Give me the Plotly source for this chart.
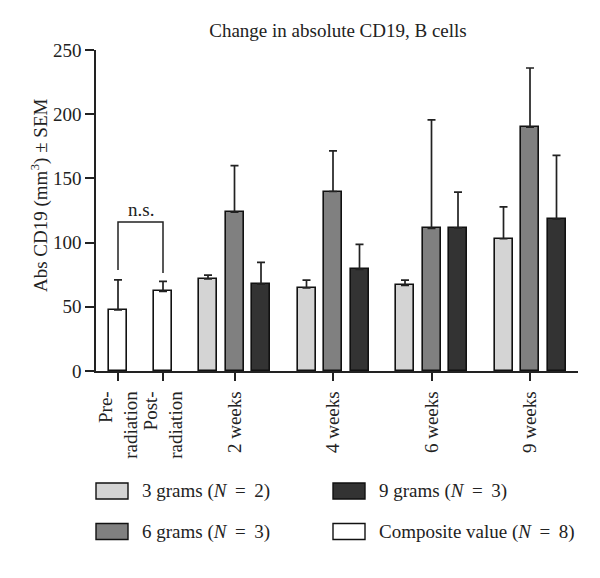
import plotly.graph_objects as go

# ---------------- data ----------------
categories = ["Pre-<br>radiation", "Post-<br>radiation", "2 weeks", "4 weeks", "6 weeks", "9 weeks"]
composite_vals = [47.5, 62.0]
composite_err_top = [71.0, 69.8]
g3_vals = [71.8, 64.8, 66.7, 103.0]
g3_err_top = [74.7, 70.8, 70.8, 127.9]
g6_vals = [123.7, 139.8, 111.0, 190.0]
g6_err_top = [160.0, 171.4, 195.6, 236.0]
g9_vals = [67.7, 79.1, 111.5, 118.3]
g9_err_top = [84.6, 98.6, 139.3, 167.9]
EQ = "\u2009=\u2009"
series_names = ["3 grams (<i>N</i> " + "= 2)", "6 grams (<i>N</i> = 3)",
                "9 grams (<i>N</i> = 3)", "Composite value (<i>N</i> = 8)"]
series_names = [s.replace(" = ", " " + EQ + " ") for s in series_names]
bracket_left_y = 78.6
bracket_right_y = 76.3
bracket_top_y = 116.0
ytick_vals = [0, 50, 100, 150, 200, 250]

# ---------------- layout constants ----------------
FONT = "Liberation Serif"
FS = 19
C3, C6, C9, CC = "#d4d4d4", "#808080", "#333333", "#ffffff"
cat_pos = [22, 67, 138.5, 237, 335.5, 434]
offset = 26.5
bw = 18

def err(vals, tops):
    return [t - v for t, v in zip(tops, vals)]

fig = go.Figure()

def add_bar(xs, vals, tops, color, name):
    fig.add_trace(go.Bar(
        x=xs, y=vals, width=bw, name=name, showlegend=False,
        marker=dict(color=color, line=dict(color="#111111", width=1.6)),
        error_y=dict(type="data", symmetric=False, array=err(vals, tops),
                     arrayminus=[0] * len(vals), thickness=1.7, width=4,
                     color="#222222"),
    ))

grp = cat_pos[2:]
add_bar(cat_pos[:2], composite_vals, composite_err_top, CC, series_names[3])
add_bar([g - offset for g in grp], g3_vals, g3_err_top, C3, series_names[0])
add_bar(grp, g6_vals, g6_err_top, C6, series_names[1])
add_bar([g + offset for g in grp], g9_vals, g9_err_top, C9, series_names[2])

# n.s. bracket
fig.add_trace(go.Scatter(
    x=[cat_pos[0], cat_pos[0], cat_pos[1], cat_pos[1]],
    y=[bracket_left_y, bracket_top_y, bracket_top_y, bracket_right_y],
    mode="lines", line=dict(color="#222222", width=1.5), showlegend=False,
    hoverinfo="skip"))
fig.add_annotation(x=(cat_pos[0] + cat_pos[1]) / 2, y=bracket_top_y, text="n.s.",
                   showarrow=False, yanchor="bottom", yshift=0,
                   font=dict(family=FONT, size=FS, color="#222222"))

# plot area on the page: x 96..578, y 50..371 (page has 8px body margin)
PX0, PW, PY0, PH = 96, 482, 371, 321

# y-axis title as annotation
fig.add_annotation(xref="paper", yref="paper", x=(39 - PX0) / PW, y=(PY0 - 196) / PH,
                   text="Abs CD19 (mm<sup>3</sup>) ± SEM", textangle=-90,
                   showarrow=False, xanchor="center", yanchor="middle",
                   font=dict(family=FONT, size=FS, color="#222222"))

# manual legend
legend_items = [
    (series_names[0], C3, 96, 491),
    (series_names[2], C9, 333, 491),
    (series_names[1], C6, 96, 531.5),
    (series_names[3], CC, 333, 531.5),
]
for name, col, lx, ly in legend_items:
    fig.add_shape(type="rect", xref="paper", yref="paper",
                  x0=(lx - PX0) / PW, x1=(lx - PX0 + 32) / PW,
                  y0=(PY0 - (ly + 8)) / PH, y1=(PY0 - (ly - 8)) / PH,
                  fillcolor=col, line=dict(color="#111111", width=1.4))
    fig.add_annotation(xref="paper", yref="paper",
                       x=(lx - PX0 + 44) / PW, y=(PY0 - ly) / PH,
                       text=name, showarrow=False, xanchor="left", yanchor="middle",
                       font=dict(family=FONT, size=FS, color="#222222"))

W, H = 592, 570
fig.update_layout(
    width=W, height=H,
    margin=dict(l=88, r=22, t=42, b=207),
    paper_bgcolor="white", plot_bgcolor="white",
    font=dict(family=FONT, size=FS, color="#222222"),
    title=dict(text="Change in absolute CD19, B cells", x=330 / W, xanchor="center",
               y=1 - 22 / H, yanchor="middle", font=dict(family=FONT, size=FS)),
    showlegend=False,
    bargap=0,
)
fig.update_xaxes(range=[0, 482], tickvals=cat_pos, ticktext=categories,
                 tickangle=-90, showline=True, linecolor="#222222", linewidth=1.5,
                 ticks="outside", ticklen=8, tickwidth=1.5, tickcolor="#222222",
                 ticklabelstandoff=3,
                 showgrid=False, zeroline=False, tickfont=dict(family=FONT, size=FS))
fig.update_yaxes(range=[0, 250], tickvals=ytick_vals, showline=True,
                 linecolor="#222222", linewidth=1.5, ticks="outside", ticklen=9,
                 tickwidth=1.5, tickcolor="#222222", showgrid=False, zeroline=False,
                 tickfont=dict(family=FONT, size=FS))

fig.write_html("out.html")
